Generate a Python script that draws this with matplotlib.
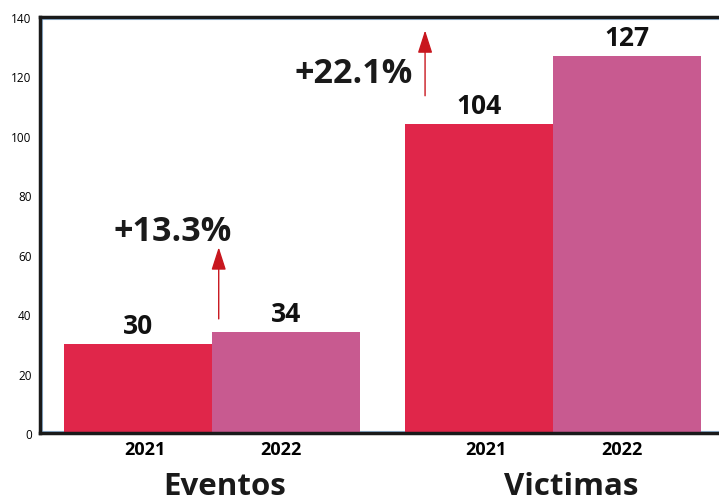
import matplotlib
matplotlib.use("Agg")
import matplotlib.pyplot as plt
from matplotlib.transforms import ScaledTranslation, blended_transform_factory
import numpy as np

groups = ["Eventos", "Victimas"]
years = ["2021", "2022"]
values_2021 = [30, 104]
values_2022 = [34, 127]
changes = ["+13.3%", "+22.1%"]
yticks = [0, 20, 40, 60, 80, 100, 120, 140]

c2021 = "#E0264A"
c2022 = "#C85A90"
font = ["Open Sans", "DejaVu Sans"]
plt.rcParams['font.family'] = font

fig = plt.figure(figsize=(7.19, 5.02), dpi=100)
ax = fig.add_axes([40/719, 1-434/502, (735-40)/719, (434-18)/502])

x = np.arange(len(groups))
w = 0.434
b1 = ax.bar(x - w/2, values_2021, w, color=c2021, zorder=2)
b2 = ax.bar(x + w/2, values_2022, w, color=c2022, zorder=2)

ax.set_xlim(-0.504, 1 + (735-553)/341)
ax.set_ylim(0, 140)
ax.set_yticks(yticks)
ax.tick_params(axis='y', length=0, labelsize=8.5, pad=6)

xt = list(x - w/2 + 0.02) + list(x + w/2 - 0.015)
xl = [years[0]]*len(groups) + [years[1]]*len(groups)
ax.set_xticks(xt)
ax.set_xticklabels(xl, fontweight='bold', fontsize=13)
ax.tick_params(axis='x', length=0, pad=5)

for sp in ["left", "top", "bottom"]:
    ax.spines[sp].set_linewidth(2.5)
    ax.spines[sp].set_color("#1a1a1a")
ax.spines["right"].set_visible(False)

# light blue inner border
offx = ScaledTranslation(2.2/100, 0, fig.dpi_scale_trans)
offy = ScaledTranslation(0, -2.2/100, fig.dpi_scale_trans)
offb = ScaledTranslation(0, 2/100, fig.dpi_scale_trans)
ax.plot([0, 0], [0, 1], transform=ax.transAxes + offx, color="#9DC3E6", lw=0.8, clip_on=False, zorder=1)
ax.plot([0, 1], [1, 1], transform=ax.transAxes + offy, color="#9DC3E6", lw=0.8, clip_on=False, zorder=1)
ax.plot([0, 1], [0, 0], transform=ax.transAxes + offb, color="#9DC3E6", lw=0.8, clip_on=False, zorder=1)

for bars in (b1, b2):
    for r in bars:
        ax.annotate(f"{int(r.get_height())}", (r.get_x() + r.get_width()/2, r.get_height()),
                    xytext=(0, 13), textcoords="offset points", ha="center", va="center",
                    fontsize=19, fontweight="bold", color="#111111")

# arrows and change labels
arrow_x = [0.02, 0.625]
arrow_y0 = [38.4, 113.5]
arrow_y1 = [62.5, 135.5]
text_x = [-0.114, 0.416]
text_y = [68.0, 121]
for i in range(len(groups)):
    ax.annotate("", xy=(arrow_x[i], arrow_y1[i]), xytext=(arrow_x[i], arrow_y0[i]),
                arrowprops=dict(arrowstyle="-|>,head_length=1.4,head_width=0.45",
                                color="#C8161E", lw=1.0, shrinkA=0, shrinkB=0), zorder=3)
    ax.text(text_x[i], text_y[i], changes[i], ha="center", va="center",
            fontsize=24.5, fontweight="bold", color="#1a1a1a")

trans = blended_transform_factory(ax.transData, fig.transFigure)
group_x = [0.038, 1.053]
for i, g in enumerate(groups):
    fig.text(group_x[i], 1 - 487/502, g, transform=trans, ha="center", va="center",
             fontsize=22.5, fontweight="bold", color="#1a1a1a")

fig.savefig("out.png", dpi=100)
